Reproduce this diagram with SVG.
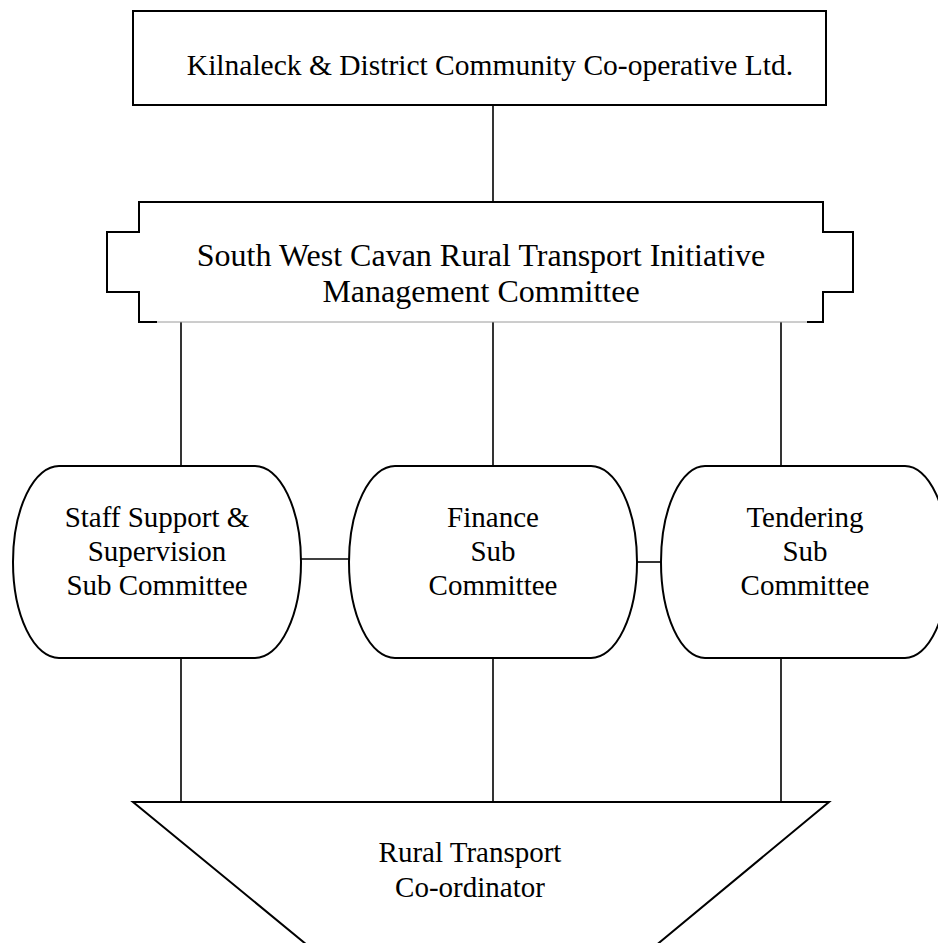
<svg xmlns="http://www.w3.org/2000/svg" width="938" height="943" viewBox="0 0 938 943">
<style>
.shape{fill:#fff;stroke:#000;stroke-width:2}
.conn{stroke:#000;stroke-width:1.6;fill:none}
.t{font-family:"Liberation Serif","Times New Roman",serif;font-size:29px;fill:#000;text-anchor:middle}
.t32{font-size:32px}
</style>
<rect width="938" height="943" fill="#fff"/>
<g id="connectors">
<line class="conn" x1="493" y1="105" x2="493" y2="202"/>
<line class="conn" x1="181" y1="322" x2="181" y2="466"/>
<line class="conn" x1="493" y1="322" x2="493" y2="466"/>
<line class="conn" x1="781" y1="322" x2="781" y2="466"/>
<line class="conn" x1="301" y1="559" x2="349" y2="559"/>
<line class="conn" x1="637" y1="562" x2="661" y2="562"/>
<line class="conn" x1="181" y1="658" x2="181" y2="802"/>
<line class="conn" x1="493" y1="658" x2="493" y2="802"/>
<line class="conn" x1="781" y1="658" x2="781" y2="802"/>
</g>
<g id="cooperative">
<rect class="shape" x="133" y="11" width="693" height="94"/>
<text class="t" x="490" y="75" style="font-size:29.5px">Kilnaleck &amp; District Community Co-operative Ltd.</text>
</g>
<g id="management">
<path d="M157,322 H807" stroke="#9a9a9a" stroke-width="1" fill="none"/>
<path class="shape" style="fill:none" d="M157,322 H139 V292 H107 V232 H139 V202 H823 V232 H853 V292 H823 V322 H807"/>
<text class="t t32" x="481" y="266">South West Cavan Rural Transport Initiative</text>
<text class="t t32" x="481" y="302">Management Committee</text>
</g>
<g id="staff">
<rect class="shape" x="13" y="466" width="288" height="192" rx="46" ry="96"/>
<text class="t" x="157" y="527">Staff Support &amp;</text>
<text class="t" x="157" y="561">Supervision</text>
<text class="t" x="157" y="595">Sub Committee</text>
</g>
<g id="finance">
<rect class="shape" x="349" y="466" width="288" height="192" rx="46" ry="96"/>
<text class="t" x="493" y="527">Finance</text>
<text class="t" x="493" y="561">Sub</text>
<text class="t" x="493" y="595">Committee</text>
</g>
<g id="tendering">
<rect class="shape" x="661" y="466" width="288" height="192" rx="44" ry="96"/>
<text class="t" x="805" y="527">Tendering</text>
<text class="t" x="805" y="561">Sub</text>
<text class="t" x="805" y="595">Committee</text>
</g>
<g id="coordinator">
<polygon class="shape" points="133,802 829,802 590,1000 374,1000"/>
<text class="t" x="470" y="862">Rural Transport</text>
<text class="t" x="470" y="897">Co-ordinator</text>
</g>
</svg>
